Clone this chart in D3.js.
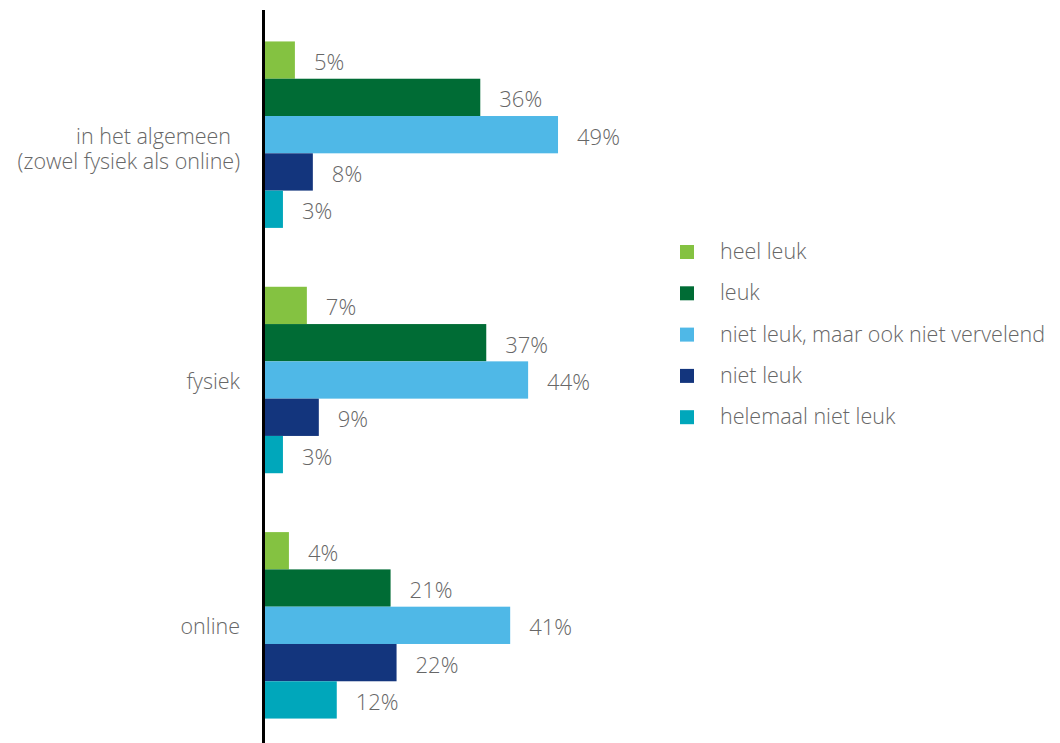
<!DOCTYPE html>
<html>
<head>
<meta charset="utf-8">
<script src="https://cdn.jsdelivr.net/npm/d3@7"></script>
<style>
  html, body { margin: 0; padding: 0; background: #fff; }
  svg text { font-family: "Open Sans", "Noto Sans", sans-serif; font-weight: 300; fill: #676767; }
</style>
</head>
<body>
<svg id="chart" width="1060" height="743"></svg>
<script>
// Categories (rows) and answer options (series)
const categories = ["in het algemeen|(zowel fysiek als online)", "fysiek", "online"];
const seriesNames = ["heel leuk", "leuk", "niet leuk, maar ook niet vervelend", "niet leuk", "helemaal niet leuk"];
const seriesColors = ["#84c241", "#006c35", "#4fb8e7", "#13357d", "#00a7bb"];

// Percentages per series, in category order
const heelLeuk = [5, 7, 4];
const leuk = [36, 37, 21];
const nietLeukNietVervelend = [49, 44, 41];
const nietLeuk = [8, 9, 22];
const helemaalNietLeuk = [3, 3, 12];

const seriesValues = [heelLeuk, leuk, nietLeukNietVervelend, nietLeuk, helemaalNietLeuk];

const rows = categories.map((c, i) => ({
  category: c,
  values: seriesNames.map((s, j) => ({ series: s, value: seriesValues[j][i], color: seriesColors[j] }))
}));

const svg = d3.select("#chart");

const x = d3.scaleLinear().domain([0, 50]).range([265, 564]);

const y0 = d3.scaleBand()
  .domain(categories)
  .range([12, 748])
  .paddingInner(0.24)
  .paddingOuter(0.12);

const y1 = d3.scaleBand()
  .domain(seriesNames)
  .range([0, y0.bandwidth()]);

const groups = svg.selectAll("g.group")
  .data(rows)
  .join("g")
  .attr("class", "group")
  .attr("transform", d => `translate(0,${y0(d.category)})`);

groups.selectAll("rect")
  .data(d => d.values)
  .join("rect")
  .attr("x", x(0))
  .attr("y", d => y1(d.series))
  .attr("width", d => x(d.value) - x(0))
  .attr("height", y1.bandwidth())
  .attr("fill", d => d.color);

groups.selectAll("text.value")
  .data(d => d.values)
  .join("text")
  .attr("class", "value")
  .attr("x", d => x(d.value) + 19)
  .attr("y", d => y1(d.series) + y1.bandwidth() / 2 + 10)
  .attr("font-size", 22)
  .text(d => d.value + "%");

// Category labels, right-aligned left of the axis (one text per line)
const catLines = categories.flatMap(c => {
  const lines = c.split("|");
  const cy = y0(c) + y0.bandwidth() / 2;
  return lines.map((ln, k) => ({
    text: ln,
    x: lines.length > 1 && k === 0 ? 231 : 240,
    y: cy + 9 + k * 25
  }));
});
svg.selectAll("text.cat")
  .data(catLines)
  .join("text")
  .attr("class", "cat")
  .attr("text-anchor", "end")
  .attr("font-size", 21.5)
  .attr("x", d => d.x)
  .attr("y", d => d.y)
  .text(d => d.text);

// Vertical axis line
svg.append("line")
  .attr("x1", 263.5).attr("x2", 263.5)
  .attr("y1", 10).attr("y2", 743)
  .attr("stroke", "#000")
  .attr("stroke-width", 3);

// Legend
const legend = svg.append("g").attr("transform", "translate(680,245)");
const items = legend.selectAll("g")
  .data(seriesNames)
  .join("g")
  .attr("transform", (d, i) => `translate(0,${i * 41.3})`);
items.append("rect")
  .attr("width", 14).attr("height", 14)
  .attr("fill", (d, i) => seriesColors[i]);
items.append("text")
  .attr("x", 40)
  .attr("y", 14)
  .attr("font-size", 21.5)
  .text(d => d);
</script>
</body>
</html>
